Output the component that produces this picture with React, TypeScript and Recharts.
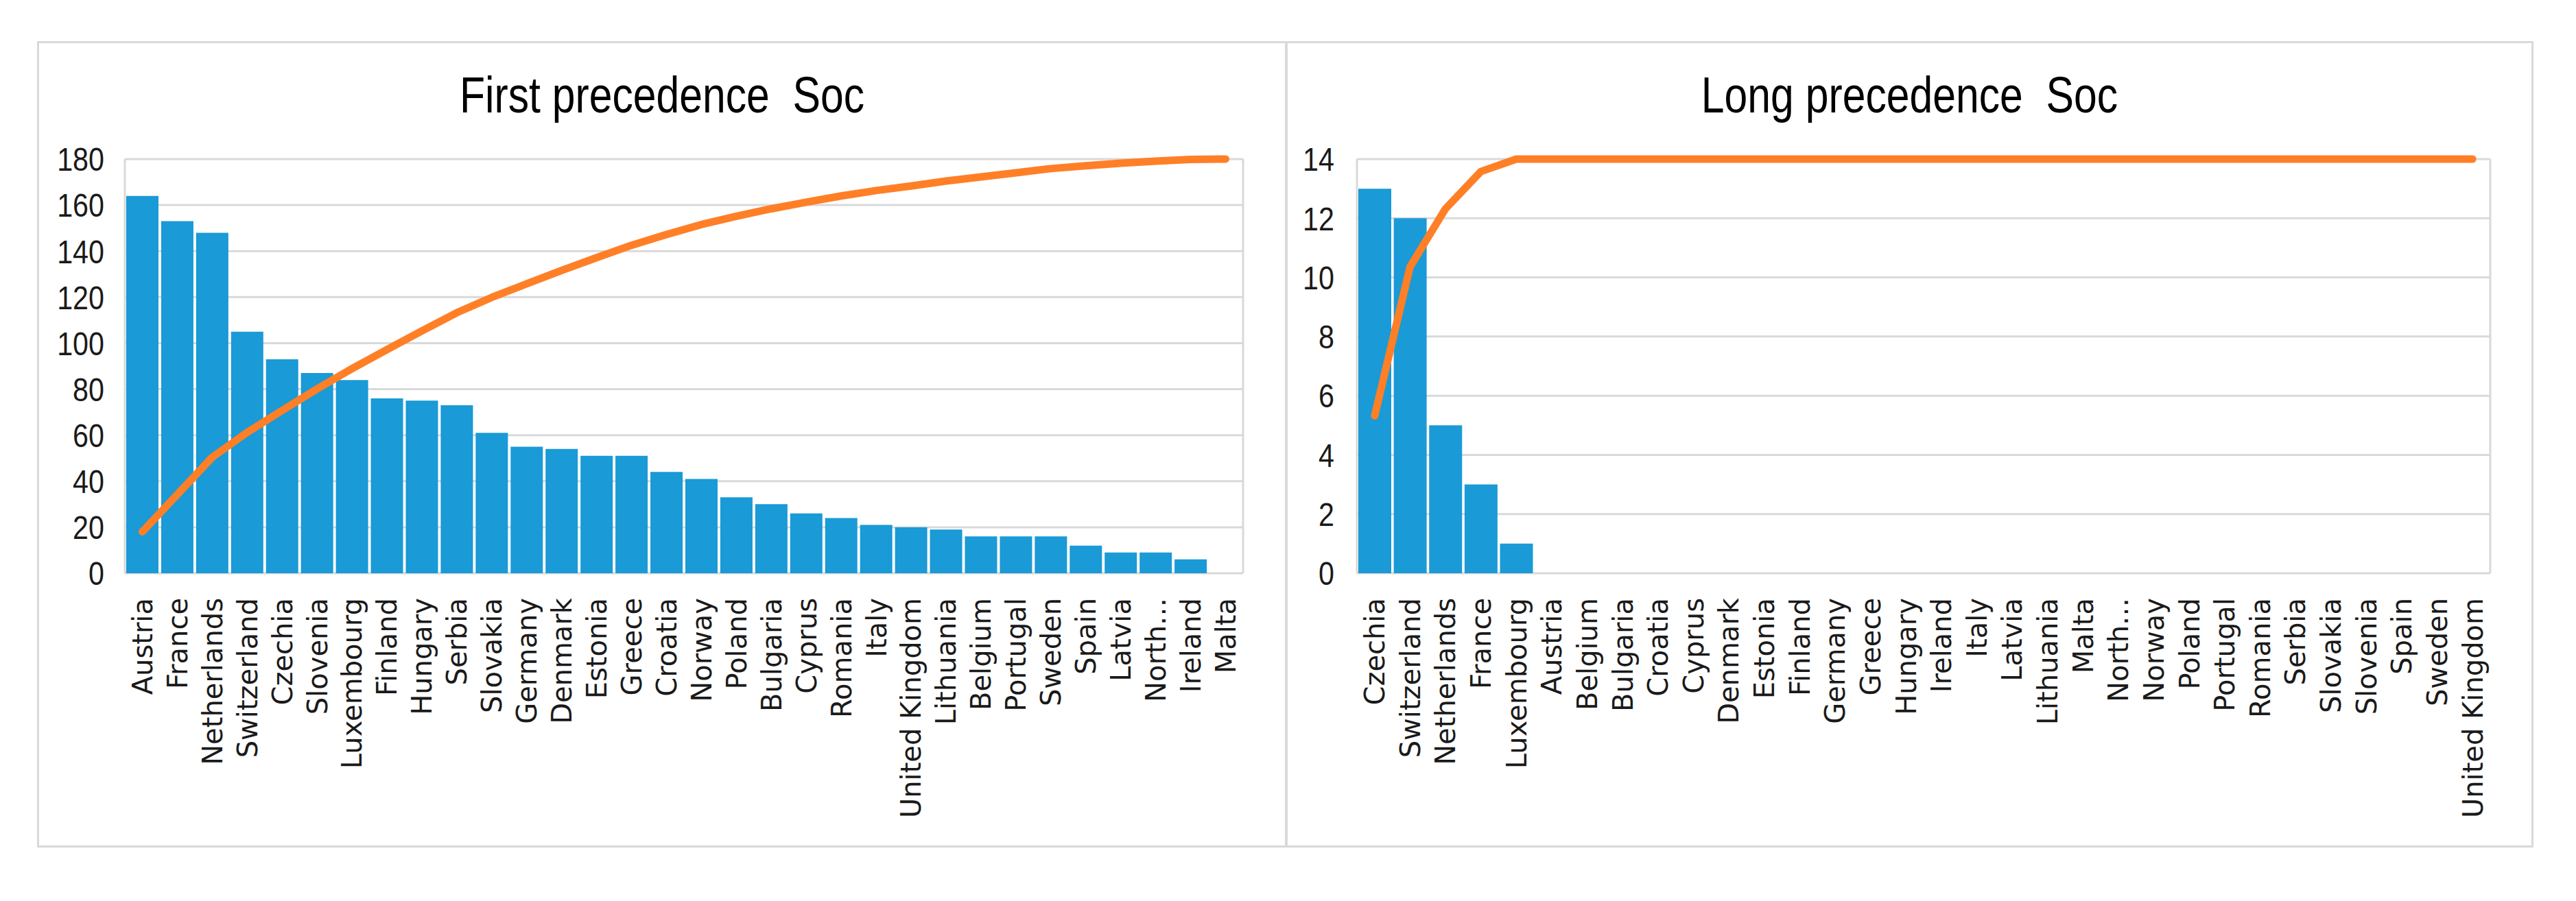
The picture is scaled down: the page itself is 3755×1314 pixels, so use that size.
import React from 'react';
import {
  ComposedChart,
  Bar,
  Line,
  XAxis,
  YAxis,
  CartesianGrid,
} from 'recharts';

// First precedence – countries sorted by count
const firstCountries = [
  'Austria', 'France', 'Netherlands', 'Switzerland', 'Czechia', 'Slovenia',
  'Luxembourg', 'Finland', 'Hungary', 'Serbia', 'Slovakia', 'Germany',
  'Denmark', 'Estonia', 'Greece', 'Croatia', 'Norway', 'Poland', 'Bulgaria',
  'Cyprus', 'Romania', 'Italy', 'United Kingdom', 'Lithuania', 'Belgium',
  'Portugal', 'Sweden', 'Spain', 'Latvia', 'North…', 'Ireland', 'Malta',
];
const firstCounts = [
  164, 153, 148, 105, 93, 87, 84, 76, 75, 73, 61, 55, 54, 51, 51, 44, 41, 33,
  30, 26, 24, 21, 20, 19, 16, 16, 16, 12, 9, 9, 6, 0,
];
// cumulative share (%)
const firstCumPct = [
  10, 19, 28, 34, 39.3, 44.5, 49.4, 54, 58.5, 62.9, 66.6, 69.9, 73.1, 76.2,
  79.2, 81.8, 84.2, 86.2, 88, 89.6, 91.1, 92.4, 93.5, 94.7, 95.7, 96.7, 97.7,
  98.4, 99, 99.5, 99.9, 100,
];
const firstTicks = [0, 20, 40, 60, 80, 100, 120, 140, 160, 180];

// Long precedence
const longCountries = [
  'Czechia', 'Switzerland', 'Netherlands', 'France', 'Luxembourg', 'Austria',
  'Belgium', 'Bulgaria', 'Croatia', 'Cyprus', 'Denmark', 'Estonia', 'Finland',
  'Germany', 'Greece', 'Hungary', 'Ireland', 'Italy', 'Latvia', 'Lithuania',
  'Malta', 'North…', 'Norway', 'Poland', 'Portugal', 'Romania', 'Serbia',
  'Slovakia', 'Slovenia', 'Spain', 'Sweden', 'United Kingdom',
];
const longCounts = [
  13, 12, 5, 3, 1, 0, 0, 0, 0, 0, 0, 0, 0, 0, 0, 0, 0, 0, 0, 0, 0, 0, 0, 0, 0,
  0, 0, 0, 0, 0, 0, 0,
];
const longCumPct = [
  38, 74, 88, 97, 100, 100, 100, 100, 100, 100, 100, 100, 100, 100, 100, 100,
  100, 100, 100, 100, 100, 100, 100, 100, 100, 100, 100, 100, 100, 100, 100, 100,
];
const longTicks = [0, 2, 4, 6, 8, 10, 12, 14];

const BAR_COLOR = '#1a9ad6';
const LINE_COLOR = '#ff7f27';
const GRID_COLOR = '#d9d9d9';
const NARROW = "'Liberation Sans Narrow', 'Liberation Sans', Arial, sans-serif";

const CountryTick = (props: any) => {
  const { x, y, payload } = props;
  return (
    <text
      x={x}
      y={y}
      transform={`rotate(-90, ${x}, ${y})`}
      textAnchor="end"
      dy="0.36em"
      fontSize={40}
      fontFamily="'DejaVu Sans', Verdana, sans-serif"
      fill="#1a1a1a"
    >
      {payload.value}
    </text>
  );
};

// narrow-looking value labels on the left axis
const ValueTick = (props: any) => {
  const { x, y, payload } = props;
  return (
    <text
      transform={`translate(${x}, ${y}) scale(0.86, 1)`}
      textAnchor="end"
      dy="0.36em"
      fontSize={48}
      fontFamily={NARROW}
      fill="#1a1a1a"
    >
      {payload.value}
    </text>
  );
};

interface PanelProps {
  title: string;
  left: number;
  width: number;
  yWidth: number;
  marginRight: number;
  tickMargin: number;
  countries: string[];
  counts: number[];
  cum: number[];
  ticks: number[];
}

const Panel: React.FC<PanelProps> = ({
  title, left, width, yWidth, marginRight, tickMargin, countries, counts, cum, ticks,
}) => {
  const data = countries.map((c, i) => ({ name: c, count: counts[i], cum: cum[i] }));
  const max = ticks[ticks.length - 1];
  return (
    <>
      <div
        style={{
          position: 'absolute', left, top: 60, width, height: 1176,
          border: `3px solid ${GRID_COLOR}`, boxSizing: 'border-box',
        }}
      />
      <div
        style={{
          position: 'absolute', left, top: 102, width, textAlign: 'center',
          fontFamily: NARROW, fontSize: 74, lineHeight: '74px', color: '#000',
          whiteSpace: 'pre', transform: 'scaleX(0.82)', transformOrigin: 'center',
        }}
      >
        {title}
      </div>
      <div style={{ position: 'absolute', left, top: 60 }}>
        <ComposedChart
          width={width}
          height={1176}
          data={data}
          margin={{ top: 172, right: marginRight, left: 0, bottom: 0 }}
          barCategoryGap={2}
        >
          <CartesianGrid
            stroke={GRID_COLOR}
            strokeWidth={3}
            verticalCoordinatesGenerator={({ offset }: any) => [
              offset.left,
              offset.left + offset.width,
            ]}
          />
          <XAxis
            dataKey="name"
            interval={0}
            height={400}
            axisLine={false}
            tickLine={false}
            tickSize={0}
            tickMargin={36}
            tick={<CountryTick />}
          />
          <YAxis
            domain={[0, max]}
            ticks={ticks}
            width={yWidth}
            axisLine={false}
            tickLine={false}
            tickSize={0}
            tickMargin={tickMargin}
            tick={<ValueTick />}
          />
          <YAxis yAxisId="pct" orientation="right" hide domain={[0, 100]} />
          <Bar dataKey="count" fill={BAR_COLOR} isAnimationActive={false} />
          <Line
            yAxisId="pct"
            dataKey="cum"
            type="linear"
            stroke={LINE_COLOR}
            strokeWidth={11}
            strokeLinecap="round"
            strokeLinejoin="round"
            dot={false}
            activeDot={false}
            isAnimationActive={false}
          />
        </ComposedChart>
      </div>
    </>
  );
};

const App: React.FC = () => (
  <div
    style={{
      position: 'absolute', left: 0, top: 0, width: 3755, height: 1314,
      background: '#fff', overflow: 'hidden',
    }}
  >
    <Panel
      title="First precedence  Soc"
      left={54}
      width={1822}
      yWidth={128}
      marginRight={64}
      tickMargin={30}
      countries={firstCountries}
      counts={firstCounts}
      cum={firstCumPct}
      ticks={firstTicks}
    />
    <Panel
      title="Long precedence  Soc"
      left={1874}
      width={1819}
      yWidth={104}
      marginRight={63}
      tickMargin={33}
      countries={longCountries}
      counts={longCounts}
      cum={longCumPct}
      ticks={longTicks}
    />
  </div>
);

export default App;
